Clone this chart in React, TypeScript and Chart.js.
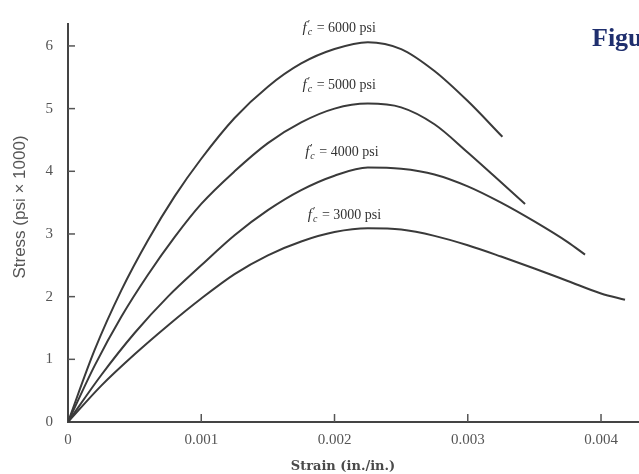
import React, { useEffect, useRef } from "react";
import { Chart, registerables } from "chart.js";
Chart.register(...registerables);

// ---- data ----
const strain6000 = [0, 0.0002, 0.0004, 0.0006, 0.0008, 0.001, 0.00125, 0.0015, 0.00175, 0.002, 0.00225, 0.0025, 0.00275, 0.003, 0.00326];
const stress6000 = [0, 1.15, 2.1, 2.9, 3.6, 4.2, 4.85, 5.35, 5.72, 5.95, 6.06, 5.95, 5.6, 5.12, 4.55];

const strain5000 = [0, 0.0002, 0.0004, 0.0006, 0.0008, 0.001, 0.00125, 0.0015, 0.00175, 0.002, 0.00225, 0.0025, 0.00275, 0.003, 0.0032, 0.00343];
const stress5000 = [0, 0.9, 1.68, 2.35, 2.95, 3.48, 4.0, 4.45, 4.78, 5.0, 5.08, 5.02, 4.75, 4.3, 3.92, 3.48];

const strain4000 = [0, 0.00025, 0.0005, 0.00075, 0.001, 0.00125, 0.0015, 0.00175, 0.002, 0.00225, 0.0025, 0.00275, 0.003, 0.00325, 0.0035, 0.00375, 0.00388];
const stress4000 = [0, 0.75, 1.42, 2.0, 2.5, 2.98, 3.38, 3.7, 3.93, 4.06, 4.04, 3.95, 3.76, 3.5, 3.2, 2.87, 2.67];

const strain3000 = [0, 0.00025, 0.0005, 0.00075, 0.001, 0.00125, 0.0015, 0.00175, 0.002, 0.00225, 0.0025, 0.00275, 0.003, 0.00325, 0.0035, 0.00375, 0.004, 0.00418];
const stress3000 = [0, 0.58, 1.08, 1.54, 1.97, 2.36, 2.66, 2.88, 3.03, 3.09, 3.07, 2.97, 2.82, 2.64, 2.45, 2.25, 2.05, 1.95];

const seriesStrain = [strain6000, strain5000, strain4000, strain3000];
const seriesStress = [stress6000, stress5000, stress4000, stress3000];
const seriesNames = ["6000 psi", "5000 psi", "4000 psi", "3000 psi"];

const xTickValues = [0, 0.001, 0.002, 0.003, 0.004];
const xTickLabels = ["0", "0.001", "0.002", "0.003", "0.004"];
const yTickValues = [0, 1, 2, 3, 4, 5, 6];
const yTickLabels = ["0", "1", "2", "3", "4", "5", "6"];

// curve label anchors in data units
const labelStrain = [0.00176, 0.00176, 0.00178, 0.0018];
const labelStress = [6.28, 5.37, 4.3, 3.3];

const xTitle = "Strain (in./in.)";
const yTitle = "Stress (psi \u00d7 1000)";
const figureText = "Figure";

const SERIF = "'Liberation Serif', 'DejaVu Serif', serif";

const decorPlugin = {
  id: "decor",
  afterDraw(chart: any) {
    const ctx = chart.ctx as CanvasRenderingContext2D;
    const xs = chart.scales.x;
    const ys = chart.scales.y;
    ctx.save();
    // inner tick marks
    ctx.strokeStyle = "#555";
    ctx.lineWidth = 1.5;
    yTickValues.forEach((v) => {
      if (v === 0) return;
      const py = ys.getPixelForValue(v);
      ctx.beginPath();
      ctx.moveTo(xs.left, py);
      ctx.lineTo(xs.left + 7, py);
      ctx.stroke();
    });
    xTickValues.forEach((v) => {
      if (v === 0) return;
      const px = xs.getPixelForValue(v);
      ctx.beginPath();
      ctx.moveTo(px, ys.bottom);
      ctx.lineTo(px, ys.bottom - 8);
      ctx.stroke();
    });

    // curve labels  f'c = N psi
    ctx.fillStyle = "#333";
    ctx.textBaseline = "middle";
    ctx.textAlign = "left";
    seriesNames.forEach((name, i) => {
      let x = xs.getPixelForValue(labelStrain[i]);
      const y = ys.getPixelForValue(labelStress[i]);
      ctx.font = `italic 15px ${SERIF}`;
      ctx.fillText("f", x, y);
      x += ctx.measureText("f").width + 1;
      ctx.font = `11px ${SERIF}`;
      ctx.fillText("\u2032", x, y - 4);
      const pw = ctx.measureText("\u2032").width;
      ctx.font = `italic 10px ${SERIF}`;
      ctx.fillText("c", x, y + 4);
      const cw = ctx.measureText("c").width;
      x += Math.max(pw, cw) + 1;
      ctx.font = `14px ${SERIF}`;
      ctx.fillText(" = " + name, x, y);
    });

    // axis titles
    ctx.fillStyle = "#4a4a4a";
    ctx.font = `bold 13px 'DejaVu Serif', serif`;
    ctx.textAlign = "center";
    ctx.fillText(xTitle, 343, 467);
    ctx.save();
    ctx.translate(20, 207);
    ctx.rotate(-Math.PI / 2);
    ctx.font = `17px 'Liberation Sans', sans-serif`;
    ctx.fillStyle = "#555";
    ctx.fillText(yTitle, 0, 0);
    ctx.restore();

    // figure caption fragment
    ctx.fillStyle = "#1f2f6e";
    ctx.font = `bold 26px ${SERIF}`;
    ctx.textAlign = "left";
    ctx.textBaseline = "alphabetic";
    ctx.fillText(figureText, 592, 46);
    ctx.restore();
  },
};

export default function App() {
  const ref = useRef<HTMLCanvasElement | null>(null);
  useEffect(() => {
    if (!ref.current) return;
    const datasets = seriesStrain.map((xs, i) => ({
      label: seriesNames[i],
      data: xs.map((x, j) => ({ x, y: seriesStress[i][j] })),
      borderColor: "#3a3a3a",
      borderWidth: 2,
      pointRadius: 0,
      fill: false,
      cubicInterpolationMode: "monotone" as const,
    }));
    const chart = new Chart(ref.current, {
      type: "line",
      data: { datasets },
      options: {
        animation: false,
        responsive: false,
        layout: { padding: { top: 18, left: 0, right: 0, bottom: 0 } },
        plugins: { legend: { display: false }, tooltip: { enabled: false } },
        scales: {
          x: {
            type: "linear",
            min: 0,
            max: 0.004285,
            afterFit: (s: any) => { s.height = 52; },
            afterBuildTicks: (s: any) => { s.ticks = xTickValues.map((v) => ({ value: v })); },
            ticks: {
              padding: 9,
              color: "#555",
              font: { family: SERIF, size: 15 },
              callback: (v: any) => xTickLabels[xTickValues.indexOf(Number(v))] ?? "",
            },
            grid: { display: true, drawOnChartArea: false, drawTicks: false },
            border: { display: true, color: "#444", width: 2 },
          },
          y: {
            type: "linear",
            min: 0,
            max: 6.35,
            afterFit: (s: any) => { s.width = 68; },
            afterBuildTicks: (s: any) => { s.ticks = yTickValues.map((v) => ({ value: v })); },
            ticks: {
              padding: 15,
              color: "#555",
              font: { family: SERIF, size: 15 },
              callback: (v: any) => yTickLabels[yTickValues.indexOf(Number(v))] ?? "",
            },
            grid: { display: true, drawOnChartArea: false, drawTicks: false },
            border: { display: true, color: "#444", width: 2 },
          },
        },
      },
      plugins: [decorPlugin],
    });
    return () => chart.destroy();
  }, []);
  return (
    <div style={{ position: "fixed", left: 0, top: 0, width: 639, height: 474, background: "#fff" }}>
      <canvas ref={ref} width={639} height={474} style={{ display: "block" }} />
    </div>
  );
}
